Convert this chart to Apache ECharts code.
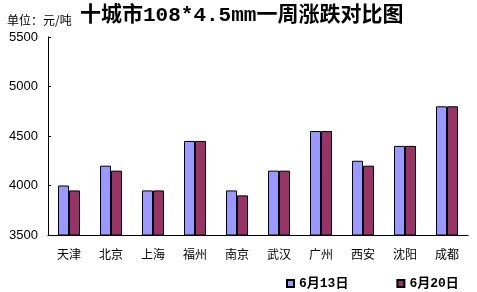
<!DOCTYPE html>
<html>
<head>
<meta charset="utf-8">
<script src="https://cdn.jsdelivr.net/npm/echarts@6/dist/echarts.min.js"></script>
<style>
  html, body { margin: 0; padding: 0; background: #fff; }
  #chart { width: 477px; height: 292px; }
</style>
</head>
<body>
<div id="chart"></div>
<script>
const cities = ['天津', '北京', '上海', '福州', '南京', '武汉', '广州', '西安', '沈阳', '成都']
const june13 = [4000, 4200, 3950, 4450, 3950, 4150, 4550, 4250, 4400, 4800]
const june20 = [3950, 4150, 3950, 4450, 3900, 4150, 4550, 4200, 4400, 4800]
const seriesNames = ['6月13日', '6月20日']

const chart = echarts.init(document.getElementById('chart'))

const barStyle = (color) => ({
  color: color,
  borderColor: '#000',
  borderWidth: 1,
})

chart.setOption({
  animation: false,
  title: [
    {
      text: '十城市108*4.5mm一周涨跌对比图',
      left: 75,
      top: 0,
      textStyle: {
        fontFamily: '"Liberation Mono", "Noto Sans CJK SC"',
        fontSize: 21,
        fontWeight: 'bold',
        color: '#000',
      },
    },
    {
      text: '单位：元/吨',
      left: 2,
      top: 9,
      textStyle: {
        fontFamily: '"Noto Sans CJK SC"',
        fontSize: 12,
        fontWeight: 'normal',
        color: '#000',
      },
    },
  ],
  legend: {
    data: seriesNames,
    left: 281,
    top: 272,
    itemWidth: 7,
    itemHeight: 7,
    itemGap: 48,
    icon: 'rect',
    textStyle: {
      fontFamily: '"Liberation Mono", "Noto Sans CJK SC"',
      fontSize: 13,
      fontWeight: 'bold',
      color: '#000',
    },
  },
  grid: {
    left: 48,
    right: 9,
    top: 37,
    bottom: 57,
  },
  xAxis: {
    type: 'category',
    data: cities,
    axisLine: { lineStyle: { color: '#000', width: 1 } },
    axisTick: { inside: true, length: 3, lineStyle: { color: '#000' } },
    axisLabel: {
      margin: 13,
      fontFamily: '"Noto Sans CJK SC"',
      fontSize: 12,
      color: '#000',
    },
  },
  yAxis: {
    type: 'value',
    min: 3500,
    max: 5500,
    interval: 500,
    splitLine: { show: false },
    axisLine: { show: true, lineStyle: { color: '#000', width: 1 } },
    axisTick: { show: true, inside: true, length: 3, lineStyle: { color: '#000' } },
    axisLabel: {
      margin: 10,
      formatter: (v) => String(v),
      fontFamily: '"Liberation Sans", Arial',
      fontSize: 13,
      color: '#000',
    },
  },
  series: [
    {
      name: seriesNames[0],
      type: 'bar',
      data: june13,
      barWidth: 11,
      barGap: '0%',
      itemStyle: barStyle('#9999ff'),
    },
    {
      name: seriesNames[1],
      type: 'bar',
      data: june20,
      barWidth: 11,
      itemStyle: barStyle('#993366'),
    },
  ],
})
</script>
</body>
</html>
